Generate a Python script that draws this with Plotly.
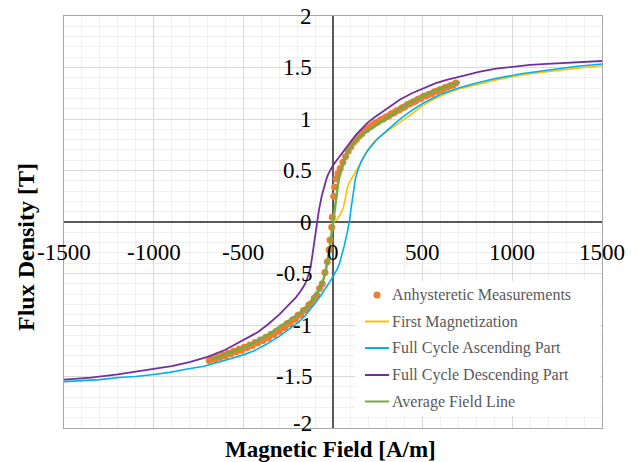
import plotly.graph_objects as go

# ---- Anhysteretic measurement points (H in A/m, B in T) ----
meas_h = [-690, -675, -660, -645, -630, -615, -600, -585, -570, -555, -540, -525, -510,
          -495, -480, -465, -450, -435, -420, -405, -390, -375, -360, -345, -330, -315,
          -300, -285, -270, -255, -240, -225, -210, -195, -180, -165, -150, -135, -120,
          -105, -90, -75, -60, -45, -32, -22, -17, -7, -4, 4, 9, 18, 28, 40, 55, 70, 85,
          100, 115, 130, 145, 160, 175, 190, 205, 220, 235, 250, 265, 280, 295, 310, 325,
          340, 355, 370, 385, 400, 415, 430, 445, 460, 475, 490, 505, 520, 535, 550, 565,
          580, 595, 610, 625, 640, 655, 670, 685]
meas_b = [-1.345, -1.325, -1.335, -1.31, -1.315, -1.29, -1.30, -1.275, -1.28, -1.255, -1.26,
          -1.235, -1.245, -1.215, -1.22, -1.195, -1.20, -1.17, -1.175, -1.145, -1.15, -1.12,
          -1.125, -1.09, -1.095, -1.06, -1.06, -1.025, -1.025, -0.985, -0.99, -0.95, -0.945,
          -0.905, -0.90, -0.86, -0.85, -0.805, -0.79, -0.74, -0.71, -0.645, -0.60, -0.49,
          -0.385, -0.27, -0.175, -0.05, 0.045, 0.25, 0.34, 0.42, 0.47, 0.52, 0.58, 0.635,
          0.69, 0.73, 0.775, 0.80, 0.835, 0.855, 0.885, 0.90, 0.925, 0.94, 0.96, 0.97, 0.99,
          1.00, 1.02, 1.03, 1.05, 1.06, 1.08, 1.09, 1.11, 1.12, 1.14, 1.15, 1.165, 1.175,
          1.195, 1.20, 1.22, 1.225, 1.24, 1.245, 1.265, 1.27, 1.285, 1.29, 1.305, 1.31,
          1.325, 1.33, 1.35]

# ---- First magnetization curve ----
first_h = [0, 20, 40, 58, 70, 80, 90, 104, 125, 150, 190, 230, 262, 300, 374, 440, 500,
           570, 634, 720, 820, 910, 1000, 1100, 1192, 1300, 1400, 1500]
first_b = [0.0, 0.02, 0.07, 0.14, 0.24, 0.33, 0.38, 0.42, 0.48, 0.56, 0.69, 0.78, 0.83,
           0.88, 0.97, 1.05, 1.13, 1.20, 1.25, 1.30, 1.345, 1.38, 1.41, 1.44, 1.46, 1.48,
           1.50, 1.52]

# ---- Full cycle, ascending branch ----
asc_h = [-1500, -1400, -1300, -1192, -1100, -1000, -910, -820, -720, -634, -570, -500,
         -440, -374, -300, -262, -230, -190, -160, -130, -100, -75, -50, -25, 0, 10, 20,
         28, 38, 50, 63, 78, 91, 100, 113, 125, 138, 155, 180, 210, 250, 300, 360, 420,
         500, 600, 700, 800, 900, 1050, 1200, 1350, 1500]
asc_b = [-1.55, -1.54, -1.53, -1.51, -1.50, -1.48, -1.46, -1.43, -1.40, -1.36, -1.33,
         -1.29, -1.25, -1.19, -1.11, -1.06, -1.02, -0.97, -0.92, -0.86, -0.79, -0.73,
         -0.67, -0.60, -0.53, -0.50, -0.47, -0.44, -0.39, -0.32, -0.23, -0.11, 0.0, 0.12,
         0.28, 0.42, 0.50, 0.58, 0.66, 0.73, 0.81, 0.89, 0.98, 1.06, 1.15, 1.24, 1.30,
         1.35, 1.39, 1.44, 1.478, 1.51, 1.534]

# ---- Full cycle, descending branch ----
desc_h = [-1500, -1350, -1200, -1050, -900, -800, -700, -600, -500, -420, -360, -300,
          -250, -210, -180, -155, -138, -125, -113, -100, -91, -78, -63, -50, -38, -28,
          -20, -10, 0, 25, 50, 75, 100, 130, 160, 190, 230, 262, 300, 374, 440, 500, 570,
          634, 720, 820, 910, 1000, 1100, 1192, 1300, 1400, 1500]
desc_b = [-1.53, -1.51, -1.48, -1.44, -1.40, -1.36, -1.31, -1.24, -1.15, -1.07, -0.99,
          -0.90, -0.81, -0.74, -0.67, -0.60, -0.52, -0.44, -0.30, -0.14, 0.0, 0.12, 0.25,
          0.34, 0.41, 0.46, 0.49, 0.52, 0.55, 0.61, 0.67, 0.73, 0.79, 0.85, 0.905, 0.96,
          1.015, 1.055, 1.105, 1.19, 1.25, 1.295, 1.345, 1.38, 1.42, 1.46, 1.49, 1.51, 1.525,
          1.535, 1.545, 1.555, 1.563]

# ---- Average field line ----
avg_h = [-680, -620, -560, -500, -450, -400, -350, -300, -262, -230, -190, -150, -125,
         -104, -85, -67, -52, -39, -30, -20, -10, 0, 10, 20, 30, 39, 52, 67, 85, 104, 125,
         150, 190, 230, 262, 300, 350, 400, 450, 500, 560, 620, 670, 708]
avg_b = [-1.33, -1.30, -1.26, -1.22, -1.18, -1.13, -1.08, -1.02, -0.98, -0.94, -0.89,
         -0.83, -0.78, -0.73, -0.68, -0.62, -0.55, -0.46, -0.38, -0.27, -0.14, 0.0, 0.14,
         0.28, 0.39, 0.47, 0.55, 0.62, 0.69, 0.74, 0.78, 0.83, 0.88, 0.93, 0.97, 1.01,
         1.07, 1.13, 1.18, 1.225, 1.27, 1.31, 1.34, 1.356]

x_ticks = [-1500, -1000, -500, 0, 500, 1000, 1500]
y_ticks = [2, 1.5, 1, 0.5, 0, -0.5, -1, -1.5, -2]

series_names = ["Anhysteretic Measurements", "First Magnetization",
                "Full Cycle Ascending Part", "Full Cycle Descending Part",
                "Average Field Line"]
series_colors = ["#ED7D31", "#FFC000", "#00B0F0", "#7030A0", "#70AD47"]

SERIF = "Liberation Serif, Times New Roman, serif"

# plot-area geometry in pixels (used to place the in-plot legend box)
W, H = 638, 462
ML, MR, MT, MB = 64, 36, 16, 34
PW, PH = W - ML - MR, H - MT - MB


def px_x(p):
    return (p - ML) / PW


def px_y(p):
    return (H - MB - p) / PH


fig = go.Figure()
fig.add_trace(go.Scatter(x=meas_h, y=meas_b, mode="markers", name=series_names[0],
                         marker=dict(color=series_colors[0], size=7)))
fig.add_trace(go.Scatter(x=first_h, y=first_b, mode="lines", name=series_names[1],
                         line=dict(color=series_colors[1], width=1.6)))
fig.add_trace(go.Scatter(x=asc_h, y=asc_b, mode="lines", name=series_names[2],
                         line=dict(color=series_colors[2], width=1.6)))
fig.add_trace(go.Scatter(x=desc_h, y=desc_b, mode="lines", name=series_names[3],
                         line=dict(color=series_colors[3], width=1.8)))
fig.add_trace(go.Scatter(x=avg_h, y=avg_b, mode="lines", name=series_names[4],
                         line=dict(color=series_colors[4], width=2.5)))

annotations = []
for v in x_ticks:
    annotations.append(dict(x=v, y=0, xref="x", yref="y", text=str(v), showarrow=False,
                            xanchor="center", yanchor="middle", yshift=-30,
                            font=dict(family=SERIF, size=23, color="#000000")))
for v in y_ticks:
    # the lowest label is nudged up a little to stay clear of the axis title
    annotations.append(dict(x=0, y=v, xref="x", yref="y", text=f"{v:g}", showarrow=False,
                            xanchor="right", yanchor="middle", xshift=-19,
                            yshift=5 if v == -2 else 0,
                            font=dict(family=SERIF, size=23, color="#000000")))
annotations.append(dict(x=px_x(330), y=px_y(449), xref="paper", yref="paper",
                        text="<b>Magnetic Field [A/m]</b>", showarrow=False,
                        xanchor="center", yanchor="middle",
                        font=dict(family=SERIF, size=23, color="#000000")))
annotations.append(dict(x=px_x(26), y=px_y(247), xref="paper", yref="paper",
                        text="<b>Flux Density [T]</b>", showarrow=False, textangle=-90,
                        xanchor="center", yanchor="middle",
                        font=dict(family=SERIF, size=24, color="#000000")))

# in-plot legend: white box, symbols and labels
shapes = [dict(type="rect", xref="paper", yref="paper", layer="above",
               x0=px_x(355), x1=px_x(600), y0=px_y(416), y1=px_y(281),
               fillcolor="white", line=dict(width=0))]
row_y = [295, 321.5, 348, 375, 401.5]
for i, (name, col) in enumerate(zip(series_names, series_colors)):
    yy = px_y(row_y[i])
    if i == 0:
        shapes.append(dict(type="circle", xref="paper", yref="paper", layer="above",
                           x0=px_x(373.5), x1=px_x(380.5), y0=px_y(row_y[i] + 3.5),
                           y1=px_y(row_y[i] - 3.5), fillcolor=col, line=dict(width=0)))
    else:
        shapes.append(dict(type="line", xref="paper", yref="paper", layer="above",
                           x0=px_x(365), x1=px_x(389), y0=yy, y1=yy,
                           line=dict(color=col, width=2)))
    annotations.append(dict(x=px_x(390), y=yy, xref="paper", yref="paper", text=name,
                            showarrow=False, xanchor="left", yanchor="middle",
                            font=dict(family=SERIF, size=16, color="#595959")))

axis_common = dict(showticklabels=False, ticks="", showline=True, mirror=True,
                   linecolor="#a6a6a6", linewidth=1, gridcolor="#d9d9d9", gridwidth=1,
                   zeroline=True, zerolinecolor="#595959", zerolinewidth=1.5,
                   minor=dict(showgrid=True, gridcolor="#f0f0f0", gridwidth=1))

fig.update_xaxes(range=[-1500, 1500], dtick=500, tick0=0, **axis_common)
fig.update_yaxes(range=[-2, 2], dtick=0.5, tick0=0, **axis_common)
fig.update_xaxes(minor_dtick=100)
fig.update_yaxes(minor_dtick=0.1)

fig.update_layout(
    width=W, height=H, autosize=False,
    margin=dict(l=ML, r=MR, t=MT, b=MB, pad=0),
    paper_bgcolor="white", plot_bgcolor="white",
    showlegend=False,
    annotations=annotations,
    shapes=shapes,
)

fig.write_html("out.html")
